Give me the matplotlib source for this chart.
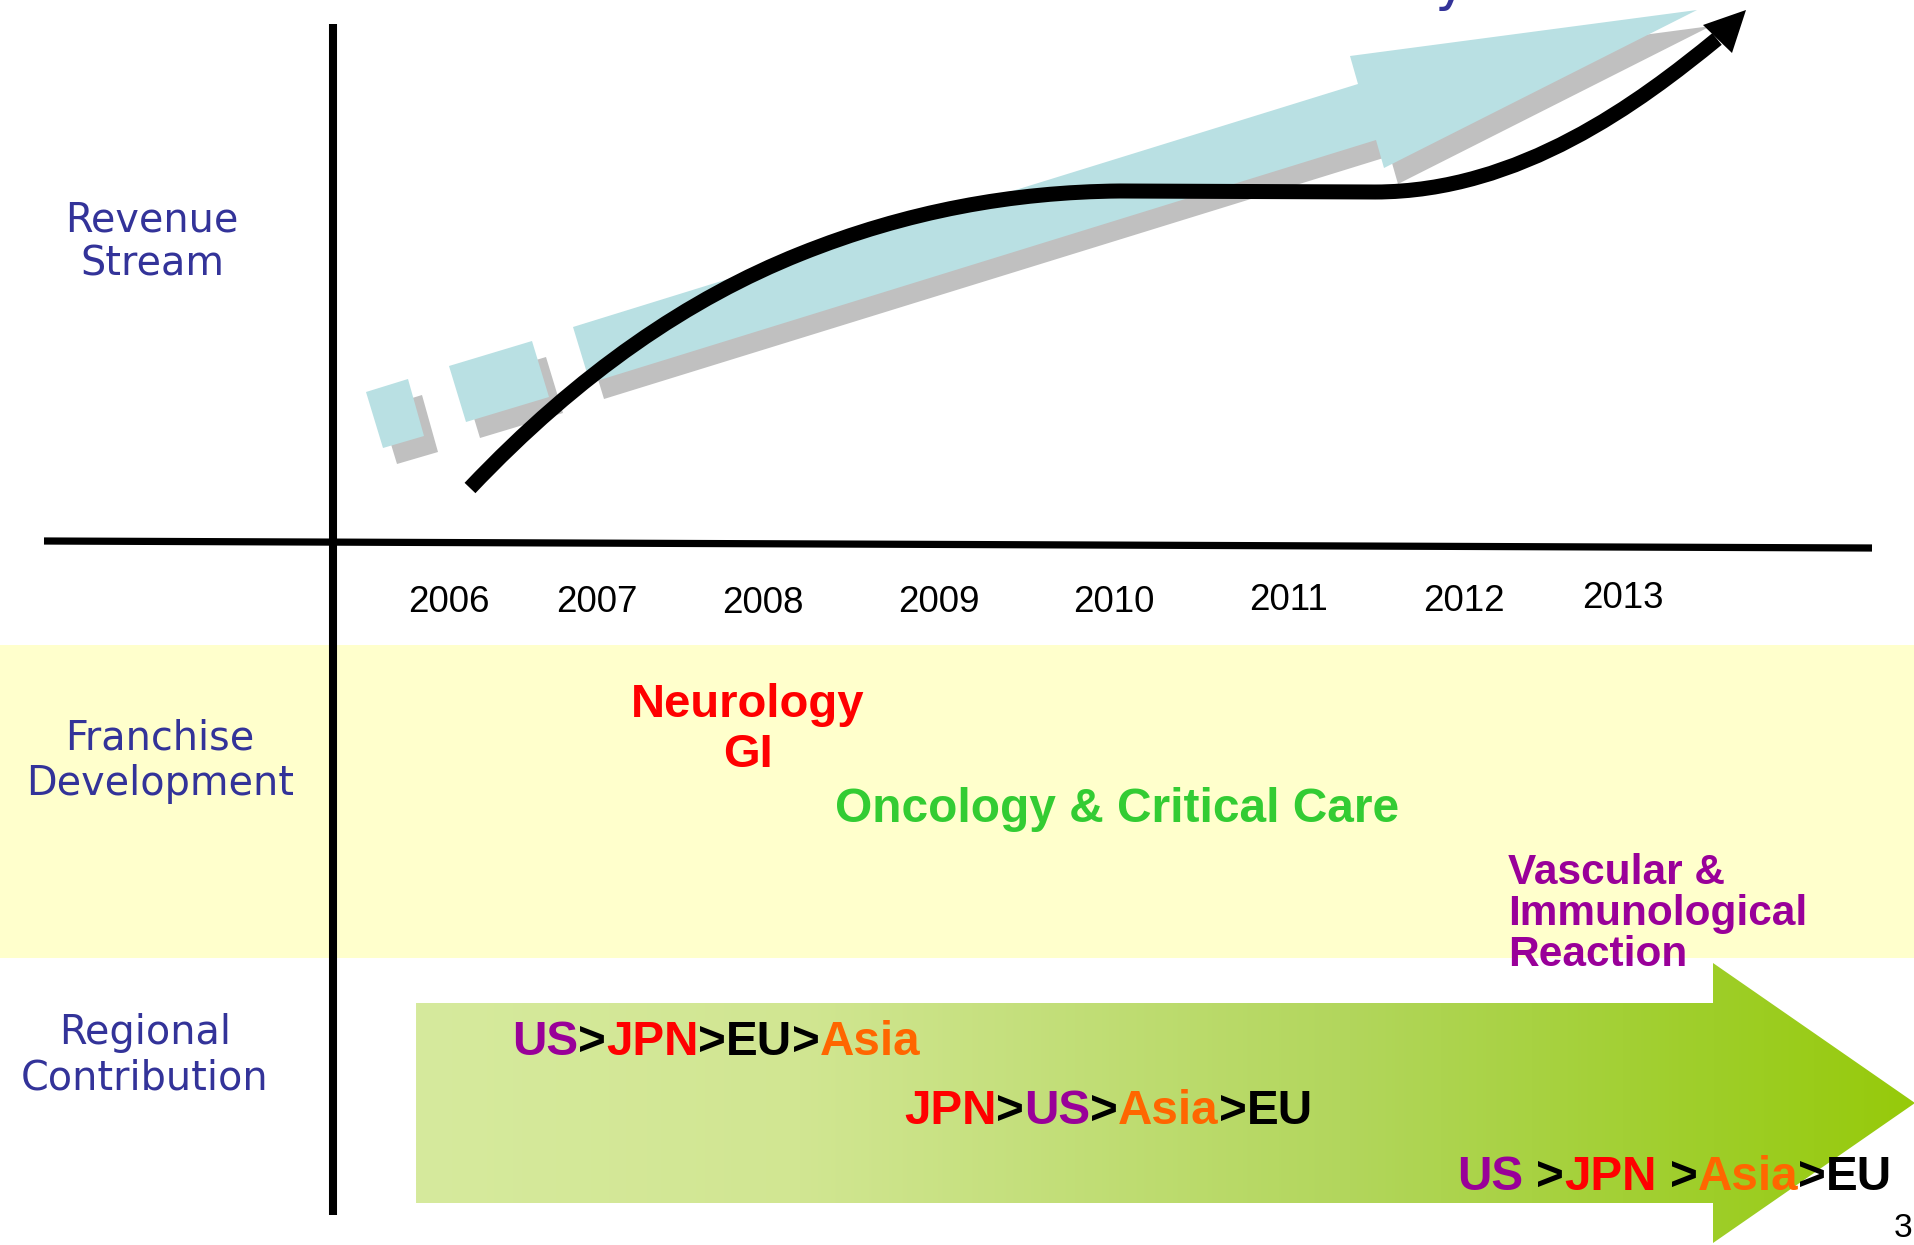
import numpy as np
import matplotlib
matplotlib.use("Agg")
import matplotlib.pyplot as plt
from matplotlib.patches import Polygon, PathPatch
from matplotlib.path import Path

# ---------------- data ----------------
years = ["2006", "2007", "2008", "2009", "2010", "2011", "2012", "2013"]
row_labels = ["Revenue\nStream", "Franchise\nDevelopment", "Regional\nContribution"]
franchise_groups = [["Neurology", "GI"], ["Oncology & Critical Care"],
                    ["Vascular &", "Immunological", "Reaction"]]
franchise_colors = ["#FF0000", "#33CC33", "#990099"]
regional_orders = [["US", "JPN", "EU", "Asia"],
                   ["JPN", "US", "Asia", "EU"],
                   ["US", "JPN", "Asia", "EU"]]
region_colors = {"US": "#990099", "JPN": "#FF0000", "EU": "#000000", "Asia": "#FF6600"}

# growth curve (bezier anchor / control points, pixel space)
curve_x = [470, 580, 690, 800, 907, 1013, 1120, 1375, 1520, 1640, 1717]
curve_y = [488, 372, 298, 254, 211, 192, 191, 192, 192, 102, 39]

# ---------------- layout (pixel space) ----------------
W, H = 1915, 1245
fig = plt.figure(figsize=(W / 100, H / 100), dpi=100)
ax = fig.add_axes([0, 0, 1, 1])
ax.set_xlim(0, W)
ax.set_ylim(H, 0)
ax.axis("off")
renderer = fig.canvas.get_renderer()

LABEL_BLUE = "#333399"
CYAN = "#B9E0E3"
SHADOW = "#C0C0C0"

# yellow band
ax.add_patch(plt.Rectangle((0, 645), W, 313, color="#FFFFCC", lw=0, zorder=1))

# green gradient arrow
arrow_pts = [(416, 1003), (1713, 1003), (1713, 963), (1915, 1103),
             (1713, 1243), (1713, 1203), (416, 1203)]
arrow_poly = Polygon(arrow_pts, closed=True, facecolor="none", edgecolor="none", zorder=2)
ax.add_patch(arrow_poly)
gx = np.linspace(416, 1915, 800)
stop_x = [416, 800, 1350, 1715, 1915]
stop_c = np.array([[214, 234, 157], [209, 230, 146], [178, 214, 92],
                   [158, 206, 40], [150, 202, 10]]) / 255.0
grad = np.stack([np.interp(gx, stop_x, stop_c[:, i]) for i in range(3)], axis=-1)[None, :, :]
im = ax.imshow(grad, extent=(416, 1915, 1245, 962), aspect="auto", zorder=2,
               interpolation="bilinear")
im.set_clip_path(arrow_poly)

# cyan blocks + big arrow with shadows
shadow_dx, shadow_dy = 14, 16
shapes = [
    [(366, 392), (408, 379), (424, 436), (383, 448)],
    [(449, 366), (532, 341), (549, 397), (466, 422)],
    [(573, 327), (1358, 84), (1350, 56), (1697, 10), (1384, 168), (1376, 140), (590, 383)],
]
for sh in shapes:
    ax.add_patch(Polygon([(x + shadow_dx, y + shadow_dy) for x, y in sh],
                         closed=True, facecolor=SHADOW, edgecolor="none", zorder=3))
for sh in shapes:
    ax.add_patch(Polygon(sh, closed=True, facecolor=CYAN, edgecolor="none", zorder=4))

# black growth curve: cubic, cubic, straight, cubic
verts = list(zip(curve_x, curve_y))
codes = [Path.MOVETO,
         Path.CURVE4, Path.CURVE4, Path.CURVE4,
         Path.CURVE4, Path.CURVE4, Path.CURVE4,
         Path.LINETO,
         Path.CURVE4, Path.CURVE4, Path.CURVE4]
ax.add_patch(PathPatch(Path(verts, codes), facecolor="none", edgecolor="black",
                       lw=10.8, capstyle="butt", joinstyle="round", zorder=6))
ax.add_patch(Polygon([(1703, 25), (1746, 10), (1732, 53)], closed=True,
                     facecolor="black", edgecolor="none", zorder=6))

# axes lines
ax.plot([333, 333], [24, 1215], color="black", lw=5.8, solid_capstyle="butt", zorder=7)
ax.plot([44, 1872], [541, 548], color="black", lw=5.2, solid_capstyle="butt", zorder=7)

# year labels
year_x = [449, 597, 763, 939, 1114, 1289, 1464, 1623]
year_y = [612, 612, 613, 612, 612, 610, 611, 608]
for yr, xx, yy in zip(years, year_x, year_y):
    ax.text(xx, yy, yr, fontsize=26.5, family="Liberation Sans", ha="center",
            va="baseline", color="black", zorder=8)

# row labels
label_pos = [(152, 231), (160, 750), (145, 1044)]
for lab, (xx, yy) in zip(row_labels, label_pos):
    for i, line in enumerate(lab.split("\n")):
        ax.text(xx, yy + 45 * i, line, fontsize=28.6, family="DejaVu Sans",
                color=LABEL_BLUE, ha="center", va="baseline", zorder=8)

# franchise texts
bold = dict(family="Liberation Sans", fontweight="bold", va="baseline", zorder=9)
for i, line in enumerate(franchise_groups[0]):
    ax.text(748, 717 + 50 * i, line, fontsize=34, color=franchise_colors[0],
            ha="center", **bold)
ax.text(835, 822, franchise_groups[1][0], fontsize=34.5, color=franchise_colors[1],
        ha="left", **bold)
for i, line in enumerate(franchise_groups[2]):
    ax.text(1508, 884 + 41 * i, line, fontsize=30.5, color=franchise_colors[2],
            ha="left", **bold)

# regional contribution orderings
def text_width(s, size):
    t = ax.text(0, 0, s, fontsize=size, family="Liberation Sans", fontweight="bold")
    w = t.get_window_extent(renderer).width
    t.remove()
    return w

RSIZE = 34.3
space_w = text_width("U U", RSIZE) - text_width("UU", RSIZE)

def colored_line(x, y, regions, spaced):
    for k, reg in enumerate(regions):
        t = ax.text(x, y, reg, fontsize=RSIZE, color=region_colors[reg], ha="left", **bold)
        x += t.get_window_extent(renderer).width
        if k < len(regions) - 1:
            if spaced[k]:
                x += space_w
            t = ax.text(x, y, ">", fontsize=RSIZE, color="black", ha="left", **bold)
            x += t.get_window_extent(renderer).width

regional_pos = [(512, 1055), (904, 1124), (1457, 1190)]
regional_spaces = [[False, False, False], [False, False, False], [True, True, False]]
for order, (xx, yy), sp in zip(regional_orders, regional_pos, regional_spaces):
    colored_line(xx, yy, order, sp)

# cut-off title fragment and page number
ax.text(1434, -1, "y", fontsize=40, family="DejaVu Sans", color=LABEL_BLUE,
        ha="left", va="baseline", zorder=9)
ax.text(1912, 1237, "3", fontsize=24, family="Liberation Sans", color="black",
        ha="right", va="baseline", zorder=9)

fig.savefig("out.png", dpi=100)
